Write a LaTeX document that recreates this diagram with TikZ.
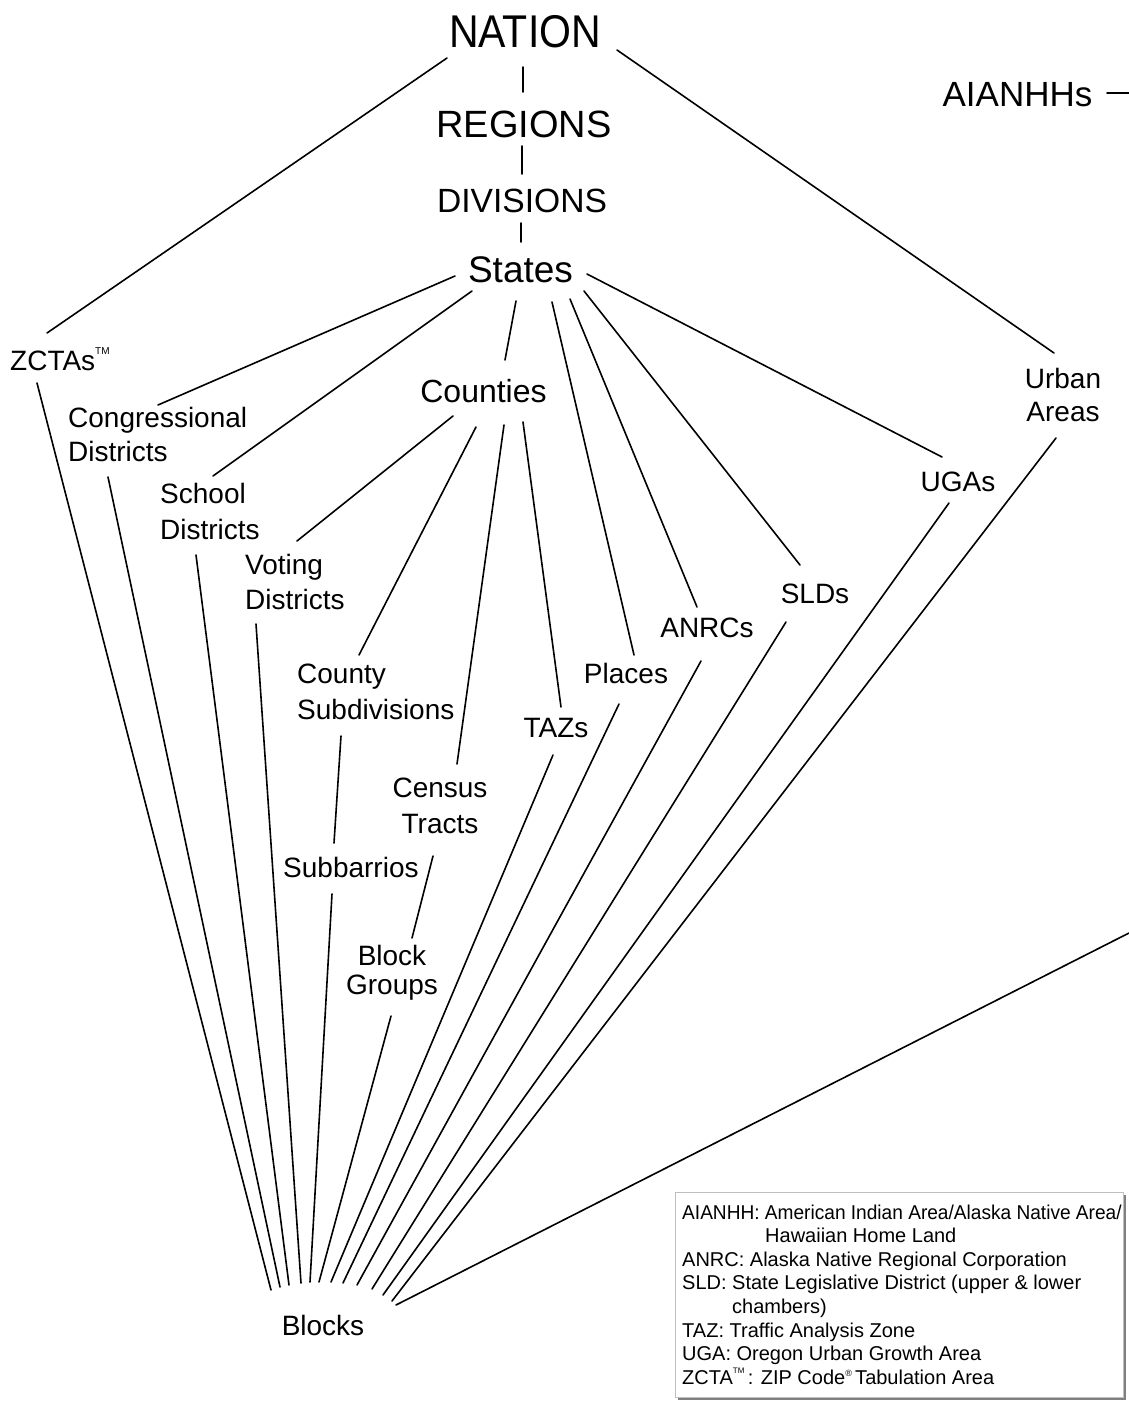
\documentclass[tikz,border=0pt]{standalone}
\usepackage{fontspec}
\setmainfont{Liberation Sans}
\newcommand\mylines[2][l]{\begin{tabular}[t]{@{}#1@{}}#2\end{tabular}}
\newcommand\smalltm[1]{\raisebox{0.55em}{\fontsize{#1}{#1}\selectfont TM}}
\begin{document}
\begin{tikzpicture}[x=1pt,y=-1pt,
  lbl/.style={inner sep=0pt, font=\fontsize{28}{34}\selectfont},
  conn/.style={line width=1.6pt, line cap=round}]
\useasboundingbox (0,0) rectangle (1129,1401);

% ---------- labels ----------
\node[inner sep=0pt,anchor=base,font=\fontsize{41}{41}\selectfont] (nation) at (525,47) {\scalebox{1}[1.12]{NATION}};
\node[inner sep=0pt,anchor=base,font=\fontsize{38}{38}\selectfont] (regions) at (524,137) {REGIONS};
\node[inner sep=0pt,anchor=base,font=\fontsize{33.6}{34}\selectfont] (divisions) at (522,212) {DIVISIONS};
\node[inner sep=0pt,anchor=base,font=\fontsize{37}{37}\selectfont] (states) at (520.5,282) {States};
\node[inner sep=0pt,anchor=base,font=\fontsize{35}{35}\selectfont] (aian) at (1017.5,106) {AIANHHs};
\node[inner sep=0pt,anchor=base,font=\fontsize{32}{32}\selectfont] (counties) at (483.5,402) {Counties};

\node[lbl,anchor=base west] (zcta) at (10,370) {ZCTAs\smalltm{10}};
\node[lbl,anchor=base west] (cong) at (68,427) {\mylines{Congressional\\Districts}};
\node[lbl,anchor=base west,font=\fontsize{28}{36}\selectfont] (school) at (160,503) {\mylines{School\\Districts}};
\node[lbl,anchor=base west,font=\fontsize{28}{35}\selectfont] (voting) at (245,574) {\mylines{Voting\\Districts}};
\node[lbl,anchor=base west,font=\fontsize{28}{36}\selectfont] (cosub) at (297,683) {\mylines{County\\Subdivisions}};
\node[lbl,anchor=base,font=\fontsize{28}{36}\selectfont] (tracts) at (440,797) {\mylines[c]{Census\\Tracts}};
\node[lbl,anchor=base west] (subb) at (283,877) {Subbarrios};
\node[lbl,anchor=base,font=\fontsize{28}{29}\selectfont] (bg) at (392,965) {\mylines[c]{Block\\Groups}};
\node[lbl,anchor=base] (taz) at (556,737) {TAZs};
\node[lbl,anchor=base] (places) at (626,683) {Places};
\node[lbl,anchor=base] (anrc) at (707,637) {ANRCs};
\node[lbl,anchor=base] (sld) at (815,603) {SLDs};
\node[lbl,anchor=base] (uga) at (958,491) {UGAs};
\node[lbl,anchor=base,font=\fontsize{28}{33}\selectfont] (urban) at (1063,388) {\mylines[c]{Urban\\Areas}};
\node[lbl,anchor=base] (blocks) at (323,1335) {Blocks};

% ---------- connector end points ----------
\coordinate (nat-z) at (447,58);   \coordinate (z-nat) at (47,333);
\coordinate (nat-r) at (523,67);   \coordinate (r-nat) at (523,92);
\coordinate (r-d) at (522,146);    \coordinate (d-r) at (522,174);
\coordinate (d-s) at (521,223);    \coordinate (s-d) at (521,242);
\coordinate (nat-u) at (617,50);   \coordinate (u-nat) at (1054,353);
\coordinate (ai-e) at (1107,93);   \coordinate (edge1) at (1129,93);

\coordinate (s-cg) at (455,276);   \coordinate (cg-s) at (158,405);
\coordinate (s-sc) at (472,291);   \coordinate (sc-s) at (213,476);
\coordinate (s-co) at (516,301);   \coordinate (co-s) at (505,360);
\coordinate (s-pl) at (552,302);   \coordinate (pl-s) at (634,655);
\coordinate (s-an) at (570,299);   \coordinate (an-s) at (697,607);
\coordinate (s-sl) at (584,291);   \coordinate (sl-s) at (800,565);
\coordinate (s-ug) at (587,274);   \coordinate (ug-s) at (942,457);

\coordinate (co-vo) at (453,416);  \coordinate (vo-co) at (297,541);
\coordinate (co-cs) at (476,427);  \coordinate (cs-co) at (359,655);
\coordinate (co-tr) at (504,425);  \coordinate (tr-co) at (457,764);
\coordinate (co-tz) at (523,422);  \coordinate (tz-co) at (561,707);
\coordinate (cs-sb) at (341,736);  \coordinate (sb-cs) at (334,843);
\coordinate (tr-bg) at (433,856);  \coordinate (bg-tr) at (412,938);

\coordinate (z-b) at (37,383);     \coordinate (b1) at (271,1290);
\coordinate (cg-b) at (108,477);   \coordinate (b2) at (280,1287);
\coordinate (sc-b) at (196,555);   \coordinate (b3) at (289,1285);
\coordinate (vo-b) at (256,624);   \coordinate (b4) at (301,1283);
\coordinate (sb-b) at (332,894);   \coordinate (b5) at (310,1282);
\coordinate (bg-b) at (391,1016);  \coordinate (b6) at (319,1282);
\coordinate (tz-b) at (553,755);   \coordinate (b7) at (331,1282);
\coordinate (pl-b) at (619,704);   \coordinate (b8) at (343,1283);
\coordinate (an-b) at (701,661);   \coordinate (b9) at (357,1285);
\coordinate (sl-b) at (786,622);   \coordinate (b10) at (372,1289);
\coordinate (ug-b) at (949,503);   \coordinate (b11) at (383,1295);
\coordinate (u-b) at (1056,438);   \coordinate (b12) at (392,1301);
\coordinate (edge2) at (1129,933); \coordinate (b13) at (396,1305);

% ---------- connectors ----------
\draw[conn] (nat-z) -- (z-nat);
\draw[conn] (nat-r) -- (r-nat);
\draw[conn] (r-d) -- (d-r);
\draw[conn] (d-s) -- (s-d);
\draw[conn] (nat-u) -- (u-nat);
\draw[conn] (ai-e) -- (edge1);
\draw[conn] (s-cg) -- (cg-s);
\draw[conn] (s-sc) -- (sc-s);
\draw[conn] (s-co) -- (co-s);
\draw[conn] (s-pl) -- (pl-s);
\draw[conn] (s-an) -- (an-s);
\draw[conn] (s-sl) -- (sl-s);
\draw[conn] (s-ug) -- (ug-s);
\draw[conn] (co-vo) -- (vo-co);
\draw[conn] (co-cs) -- (cs-co);
\draw[conn] (co-tr) -- (tr-co);
\draw[conn] (co-tz) -- (tz-co);
\draw[conn] (cs-sb) -- (sb-cs);
\draw[conn] (tr-bg) -- (bg-tr);
\draw[conn] (z-b) -- (b1);
\draw[conn] (cg-b) -- (b2);
\draw[conn] (sc-b) -- (b3);
\draw[conn] (vo-b) -- (b4);
\draw[conn] (sb-b) -- (b5);
\draw[conn] (bg-b) -- (b6);
\draw[conn] (tz-b) -- (b7);
\draw[conn] (pl-b) -- (b8);
\draw[conn] (an-b) -- (b9);
\draw[conn] (sl-b) -- (b10);
\draw[conn] (ug-b) -- (b11);
\draw[conn] (u-b) -- (b12);
\draw[conn] (edge2) -- (b13);

% ---------- legend ----------
\fill[black!50] (678,1195) rectangle (1126,1400);
\filldraw[fill=white,draw=black!25,line width=0.8pt] (675,1192) rectangle (1123,1397);
\node[inner sep=0pt,anchor=base west,font=\fontsize{20}{23.6}\selectfont] (legend) at (682,1219)
 {\mylines{\scalebox{0.955}[1]{AIANHH: American Indian Area/Alaska Native Area/}\\
 \hspace*{83pt}Hawaiian Home Land\\
 ANRC: Alaska Native Regional Corporation\\
 SLD: State Legislative District (upper \& lower\\
 \hspace*{50pt}chambers)\\
 TAZ: Traffic Analysis Zone\\
 UGA: Oregon Urban Growth Area\\
 ZCTA\smalltm{8}\,: ZIP Code\raisebox{0.75ex}{\fontsize{9}{9}\selectfont ®}\,Tabulation Area}};
\end{tikzpicture}
\end{document}
